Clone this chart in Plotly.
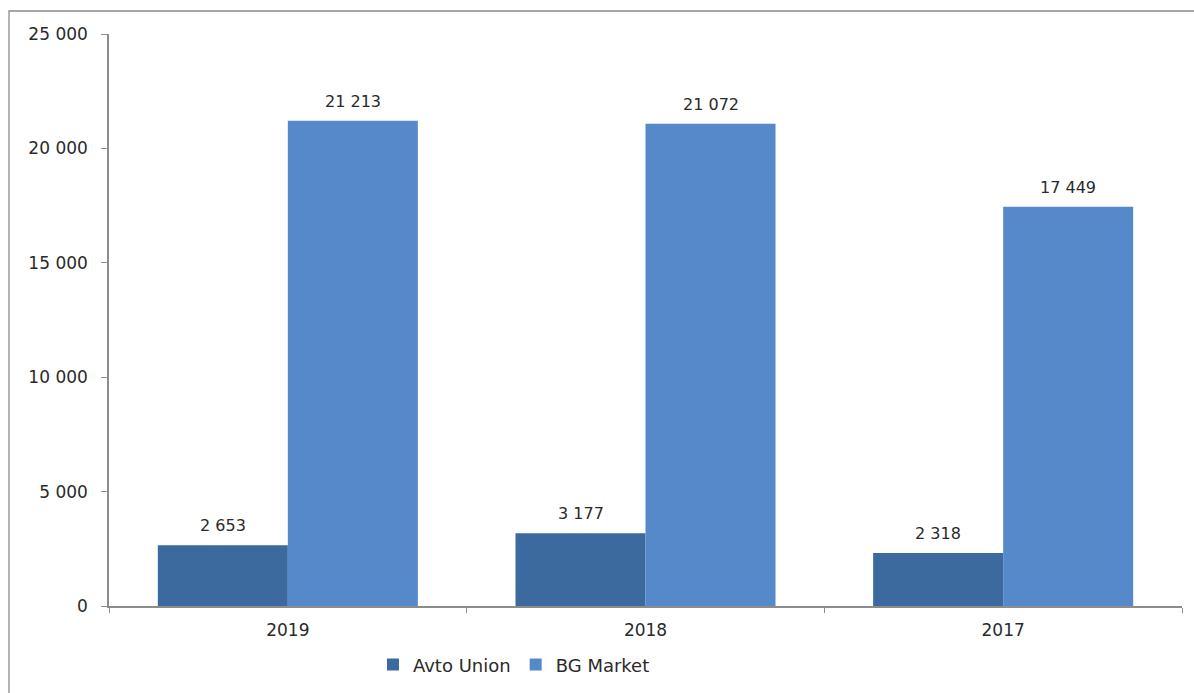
import plotly.graph_objects as go

years = ["2019", "2018", "2017"]
avto_union = [2653, 3177, 2318]
bg_market = [21213, 21072, 17449]
series_names = ["Avto Union", "BG Market"]
colors = ["#3D6A9E", "#5589C9"]
text_color = "#2a2a2a"
font_family = "DejaVu Sans"

fig = go.Figure()
fig.add_trace(go.Bar(x=years, y=avto_union, name=series_names[0],
                     marker=dict(color=colors[0], line=dict(width=0))))
fig.add_trace(go.Bar(x=years, y=bg_market, name=series_names[1],
                     marker=dict(color=colors[1], line=dict(width=0))))

annotations = []
for vals, shift in ((avto_union, -65), (bg_market, 65)):
    for i, v in enumerate(vals):
        annotations.append(dict(x=i, y=v, xref="x", yref="y", xshift=shift, yshift=8,
                                text=f"{v:,}".replace(",", " "), showarrow=False,
                                yanchor="bottom",
                                font=dict(family=font_family, size=16, color=text_color)))

fig.update_layout(
    width=1194, height=693,
    margin=dict(l=109, r=12, t=34, b=87, autoexpand=False),
    paper_bgcolor="white", plot_bgcolor="white",
    barmode="group", bargap=0.273, bargroupgap=0,
    separators=". ",
    font=dict(family=font_family, size=17, color=text_color),
    showlegend=True,
    legend=dict(orientation="h", x=0.246, xanchor="left", y=-0.103, yanchor="middle",
                font=dict(size=18, color=text_color), itemwidth=30, traceorder="normal"),
    annotations=annotations,
    shapes=[dict(type="rect", xref="paper", yref="paper",
                 x0=-0.0932, x1=1.02, y0=-0.2, y1=1.0402,
                 line=dict(color="#8c8c8c", width=1.3), layer="below")],
    xaxis=dict(type="category", range=[-0.5, 2.5], showline=True, linecolor="#8c8c8c", linewidth=1.5,
               ticks="outside", tickson="boundaries", ticklen=5, tickcolor="#8c8c8c",
               tickfont=dict(size=17, color=text_color), showgrid=False, tickangle=0,
               ticklabelstandoff=8, automargin=False),
    yaxis=dict(range=[0, 25000], dtick=5000, tickformat=",d",
               showline=True, linecolor="#8c8c8c", linewidth=1.5,
               ticks="outside", ticklen=6, tickcolor="#8c8c8c",
               tickfont=dict(size=17, color=text_color), showgrid=False, zeroline=False,
               ticklabelstandoff=10, automargin=False),
)

fig.write_html("out.html")
